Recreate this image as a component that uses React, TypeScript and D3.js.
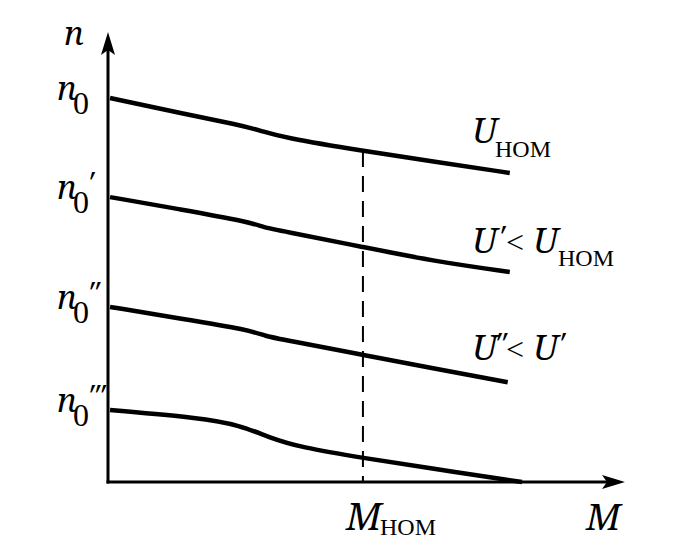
import React from "react";
import * as d3 from "d3";

// Torque axis (M) and speed axis (n) in arbitrary units
const M_MAX = 101.4;
const N_MAX = 117.2;
const M_NOM = 50;

// Curve n(M) for U_nom
const curve1M = [0.4, 12.7, 25.9, 30.2, 34.1, 50, 64.5, 78.8];
const curve1N = [100, 96.5, 93.0, 91.4, 89.8, 86.2, 83.3, 80.5];
// U' < U_nom
const curve2M = [0.4, 14.3, 27.8, 30.4, 33.7, 50, 64.3, 78.8];
const curve2N = [74.2, 71.0, 67.7, 66.4, 65.5, 61.2, 57.4, 54.7];
// U'' < U'
const curve3M = [0.4, 14.1, 27.8, 30.8, 34.7, 50, 64.3, 78.4];
const curve3N = [45.6, 42.6, 39.6, 38.0, 37.0, 33.1, 29.5, 26.0];
// lowest curve
const curve4M = [0.4, 18.0, 25.9, 31.8, 37.6, 50, 63.1, 81.2];
const curve4N = [18.75, 16.7, 14.8, 11.5, 9.1, 6.25, 3.6, 0];

const curvesM = [curve1M, curve2M, curve3M, curve4M];
const curvesN = [curve1N, curve2N, curve3N, curve4N];

// y-axis labels: primes for each n0
const nPrimes = ["", "\u2032", "\u2033", "\u2034"];
const nStartValues = [100, 74.2, 45.6, 18.75];

const UPRIGHT = "'Liberation Serif', 'Times New Roman', serif";
const ITALIC = "'Noto Serif', 'DejaVu Serif', serif";

// upright serif text
const R = (props: any) => (
  <text {...props} style={{ fontFamily: UPRIGHT }} />
);
// italic serif text
const I = (props: any) => (
  <text {...props} style={{ fontFamily: ITALIC, fontStyle: "italic" }} />
);

export default function App() {
  const W = 689;
  const H = 556;
  const x = d3.scaleLinear().domain([0, M_MAX]).range([108, 625]);
  const y = d3.scaleLinear().domain([0, N_MAX]).range([482, 32]);

  const line = d3
    .line<[number, number]>()
    .x((d) => x(d[0]))
    .y((d) => y(d[1]))
    .curve(d3.curveBasis);

  const x0 = x(0);
  const y0 = y(0);
  const xEnd = x(M_MAX);
  const yEnd = y(N_MAX);

  const yArrow = `M${x0},${yEnd} L${x0 + 7},${yEnd + 23} L${x0},${yEnd + 18} L${x0 - 7},${yEnd + 23} Z`;
  const xArrow = `M${xEnd},${y0} L${xEnd - 23},${y0 - 7} L${xEnd - 18},${y0} L${xEnd - 23},${y0 + 7} Z`;

  const xNom = x(M_NOM);
  const idx = curve1M.indexOf(M_NOM);
  const yDashTop = y(curve1N[idx]);

  return (
    <svg
      width={W}
      height={H}
      style={{ position: "absolute", left: 0, top: 0, background: "#fff" }}
    >
      <rect x={0} y={0} width={W} height={H} fill="#fff" />
      {/* dashed M_nom line */}
      <line
        x1={xNom}
        x2={xNom}
        y1={yDashTop}
        y2={y0}
        stroke="#000"
        strokeWidth={2}
        strokeDasharray="16 9"
      />
      {/* curves */}
      {curvesM.map((ms, i) => (
        <path
          key={i}
          d={line(ms.map((m, j) => [m, curvesN[i][j]]) as [number, number][]) || ""}
          fill="none"
          stroke="#000"
          strokeWidth={4.5}
          strokeLinecap="butt"
        />
      ))}
      {/* axes */}
      <line x1={x0} x2={x0} y1={y0 + 1.5} y2={yEnd + 15} stroke="#000" strokeWidth={3} />
      <line x1={x0 - 1.5} x2={xEnd - 15} y1={y0} y2={y0} stroke="#000" strokeWidth={3} />
      <path d={yArrow} fill="#000" />
      <path d={xArrow} fill="#000" />

      {/* axis titles */}
      <I x={64} y={45} fontSize={33}>n</I>
      <I x={586} y={530} fontSize={37}>M</I>

      {/* n0 labels */}
      {nStartValues.map((v, i) => {
        const by = y(v) + 2;
        return (
          <g key={i}>
            <I x={57} y={by} fontSize={33}>n</I>
            <R x={73} y={by + 14} fontSize={32}>0</R>
            {nPrimes[i] && (
              <I x={87} y={by - 5} fontSize={30}>
                {nPrimes[i]}
              </I>
            )}
          </g>
        );
      })}

      {/* curve labels */}
      <g>
        <I x={472} y={143} fontSize={35}>U</I>
        <R x={495} y={157} fontSize={24}>НОМ</R>
      </g>
      <g>
        <I x={472} y={253} fontSize={35}>U</I>
        <I x={498} y={248} fontSize={30}>{"\u2032"}</I>
        <R x={506} y={253} fontSize={32}>{"<"}</R>
        <I x={533} y={253} fontSize={35}>U</I>
        <R x={558} y={266} fontSize={24}>НОМ</R>
      </g>
      <g>
        <I x={472} y={360} fontSize={35}>U</I>
        <I x={494} y={355} fontSize={30}>{"\u2033"}</I>
        <R x={506} y={360} fontSize={32}>{"<"}</R>
        <I x={533} y={360} fontSize={35}>U</I>
        <I x={558} y={355} fontSize={30}>{"\u2032"}</I>
      </g>
      <g>
        <I x={346} y={530} fontSize={38}>M</I>
        <R x={380} y={535} fontSize={24}>НОМ</R>
      </g>
    </svg>
  );
}
